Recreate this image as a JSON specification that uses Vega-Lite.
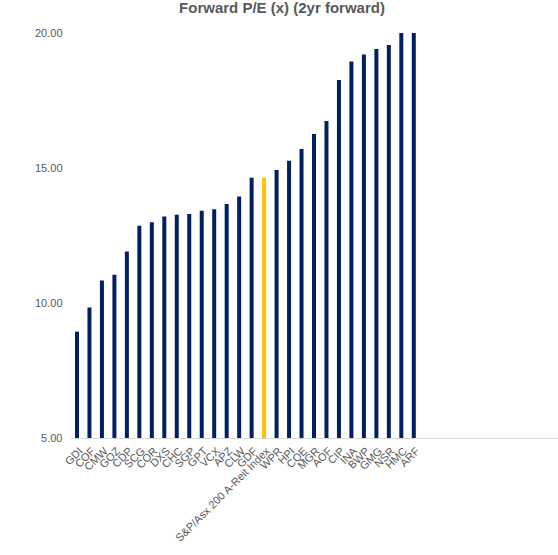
{
  "$schema": "https://vega.github.io/schema/vega-lite/v6.json",
  "width": 488,
  "height": 405,
  "autosize": {"type": "none"},
  "padding": {"left": 70, "top": 33, "right": 0, "bottom": 117},
  "background": "#ffffff",
  "title": {
    "text": "Forward P/E (x) (2yr forward)",
    "font": "Liberation Sans",
    "fontSize": 15,
    "fontWeight": "bold",
    "color": "#595959",
    "anchor": "middle",
    "dx": -32,
    "offset": 11
  },
  "data": {
    "values": [
      {"ticker": "GDI", "pe": 8.94, "group": "stock"},
      {"ticker": "COF", "pe": 9.83, "group": "stock"},
      {"ticker": "CMW", "pe": 10.83, "group": "stock"},
      {"ticker": "GOZ", "pe": 11.05, "group": "stock"},
      {"ticker": "CDP", "pe": 11.91, "group": "stock"},
      {"ticker": "SCG", "pe": 12.86, "group": "stock"},
      {"ticker": "COR", "pe": 12.99, "group": "stock"},
      {"ticker": "DXS", "pe": 13.2, "group": "stock"},
      {"ticker": "CHC", "pe": 13.27, "group": "stock"},
      {"ticker": "SGP", "pe": 13.3, "group": "stock"},
      {"ticker": "GPT", "pe": 13.42, "group": "stock"},
      {"ticker": "VCX", "pe": 13.47, "group": "stock"},
      {"ticker": "APZ", "pe": 13.67, "group": "stock"},
      {"ticker": "CLW", "pe": 13.94, "group": "stock"},
      {"ticker": "GDF", "pe": 14.64, "group": "stock"},
      {"ticker": "S&P/Asx 200 A-Reit Index", "pe": 14.64, "group": "index"},
      {"ticker": "WPR", "pe": 14.93, "group": "stock"},
      {"ticker": "HPI", "pe": 15.27, "group": "stock"},
      {"ticker": "CQE", "pe": 15.7, "group": "stock"},
      {"ticker": "MGR", "pe": 16.26, "group": "stock"},
      {"ticker": "AOF", "pe": 16.74, "group": "stock"},
      {"ticker": "CIP", "pe": 18.26, "group": "stock"},
      {"ticker": "INA", "pe": 18.94, "group": "stock"},
      {"ticker": "BWP", "pe": 19.2, "group": "stock"},
      {"ticker": "GMG", "pe": 19.41, "group": "stock"},
      {"ticker": "NSR", "pe": 19.56, "group": "stock"},
      {"ticker": "HMC", "pe": 20.0, "group": "stock"},
      {"ticker": "ARF", "pe": 20.0, "group": "stock"}
    ]
  },
  "mark": {"type": "bar"},
  "encoding": {
    "x": {
      "field": "ticker",
      "type": "nominal",
      "sort": null,
      "scale": {
        "domain": ["GDI", "COF", "CMW", "GOZ", "CDP", "SCG", "COR", "DXS", "CHC", "SGP", "GPT", "VCX", "APZ", "CLW", "GDF", "S&P/Asx 200 A-Reit Index", "WPR", "HPI", "CQE", "MGR", "AOF", "CIP", "INA", "BWP", "GMG", "NSR", "HMC", "ARF", "_b1", "_b2", "_b3", "_b4", "_b5", "_b6", "_b7", "_b8", "_b9", "_b10", "_b11"],
        "paddingInner": 0.68,
        "paddingOuter": 0.4
      },
      "axis": {
        "title": null,
        "labelAngle": -45,
        "labelAlign": "right",
        "labelBaseline": "top",
        "labelFont": "Liberation Sans",
        "labelFontSize": 11,
        "labelColor": "#595959",
        "labelPadding": 7,
        "labelDx": 2,
        "labelExpr": "indexof(datum.value, '_b') == 0 ? '' : datum.value",
        "ticks": false,
        "domainColor": "#d9d9d9",
        "domainWidth": 1,
        "grid": false,
        "labelOverlap": false
      }
    },
    "y": {
      "field": "pe",
      "type": "quantitative",
      "scale": {"domain": [5, 20], "zero": false, "nice": false},
      "axis": {
        "title": null,
        "values": [5, 10, 15, 20],
        "format": ".2f",
        "labelFont": "Liberation Sans",
        "labelFontSize": 11,
        "labelColor": "#595959",
        "labelPadding": 8,
        "ticks": false,
        "domain": false,
        "grid": false
      }
    },
    "y2": {"datum": 5},
    "color": {
      "field": "group",
      "type": "nominal",
      "scale": {"domain": ["stock", "index"], "range": ["#002060", "#FFC000"]},
      "legend": null
    }
  },
  "config": {"view": {"stroke": null}}
}
